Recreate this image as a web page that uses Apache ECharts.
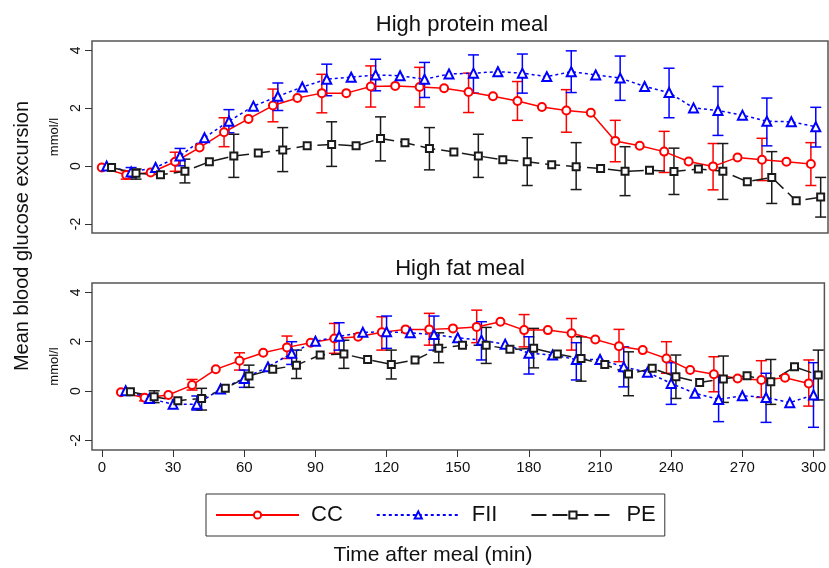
<!DOCTYPE html>
<html>
<head>
<meta charset="utf-8">
<script src="https://cdn.jsdelivr.net/npm/echarts@6.0.0/dist/echarts.min.js"></script>
<style>
  html, body { margin: 0; padding: 0; background: #fff; }
  #chart { width: 829px; height: 568px; }
</style>
</head>
<body>
<div id="chart"></div>
<script>
// sampling times (min); each group is drawn slightly shifted so the bars do not overlap
const times = [10, 20, 30, 40, 50, 60, 70, 80, 90, 100, 110, 120, 130, 140, 150,
  160, 170, 180, 190, 200, 210, 220, 230, 240, 250, 260, 270, 280, 290, 300];
const errTimes = [20, 40, 60, 80, 100, 120, 140, 160, 180, 200, 220, 240, 260, 280, 300];
const jitter = { CC: -2, FII: 0, PE: 2 };
const groups = ["CC", "FII", "PE"];
const yTicks = [-2, 0, 2, 4];
const xTicks = [0, 30, 60, 90, 120, 150, 180, 210, 240, 270, 300];

// High protein meal
const proteinCC = [-0.05, -0.31, -0.22, 0.15, 0.64, 1.17, 1.63, 2.09, 2.35, 2.52, 2.52, 2.75, 2.77, 2.73, 2.69,
  2.56, 2.41, 2.25, 2.04, 1.92, 1.84, 0.87, 0.70, 0.50, 0.16, -0.01, 0.30, 0.22, 0.15, 0.07];
const proteinFII = [0.0, -0.2, -0.05, 0.35, 0.98, 1.55, 2.07, 2.41, 2.73, 3.0, 3.07, 3.15, 3.12, 3.0, 3.18,
  3.21, 3.26, 3.21, 3.09, 3.26, 3.15, 3.04, 2.75, 2.54, 2.01, 1.92, 1.76, 1.55, 1.53, 1.36];
const proteinPE = [-0.05, -0.25, -0.30, -0.18, 0.15, 0.35, 0.45, 0.56, 0.70, 0.75, 0.70, 0.95, 0.81, 0.61, 0.49,
  0.35, 0.22, 0.15, 0.05, -0.02, -0.08, -0.18, -0.14, -0.19, -0.10, -0.18, -0.54, -0.39, -1.20, -1.07];
const proteinCCErr = [[-0.45, -0.16], [-0.18, 0.48], [0.67, 1.67], [1.53, 2.66], [1.84, 3.17], [2.04, 3.46],
  [2.04, 3.41], [1.85, 3.21], [1.58, 2.92], [1.17, 2.64], [0.15, 1.58], [-0.22, 1.2], [-0.82, 0.78],
  [-0.5, 0.96], [-0.67, 0.81]];
const proteinFIIErr = [[-0.4, -0.05], [0.01, 0.61], [1.15, 1.95], [1.92, 2.87], [2.43, 3.52], [2.6, 3.69],
  [2.37, 3.58], [2.52, 3.84], [2.52, 3.87], [2.54, 3.98], [2.27, 3.80], [1.67, 3.38], [1.06, 2.75],
  [0.70, 2.35], [0.66, 2.03]];
const proteinPEErr = [[-0.45, -0.1], [-0.58, 0.24], [-0.39, 1.10], [-0.19, 1.33], [-0.01, 1.53], [0.18, 1.70],
  [-0.13, 1.33], [-0.39, 1.10], [-0.67, 0.98], [-0.81, 0.81], [-1.02, 0.67], [-0.98, 0.62], [-1.15, 0.78],
  [-1.29, 0.50], [-1.76, -0.39]];

// High fat meal
const fatCC = [-0.05, -0.27, -0.16, 0.24, 0.88, 1.23, 1.55, 1.77, 1.96, 2.13, 2.2, 2.38, 2.5, 2.5, 2.54,
  2.60, 2.81, 2.47, 2.47, 2.34, 2.09, 1.82, 1.66, 1.32, 0.85, 0.68, 0.51, 0.45, 0.54, 0.31];
const fatFII = [0.01, -0.30, -0.54, -0.54, 0.08, 0.51, 0.98, 1.53, 2.02, 2.22, 2.38, 2.40, 2.36, 2.29, 2.16,
  2.06, 1.90, 1.53, 1.46, 1.28, 1.28, 0.98, 0.76, 0.31, -0.09, -0.34, -0.19, -0.26, -0.47, -0.16];
const fatPE = [-0.03, -0.23, -0.39, -0.30, 0.11, 0.61, 0.88, 1.05, 1.46, 1.5, 1.28, 1.08, 1.26, 1.73, 1.86,
  1.86, 1.69, 1.73, 1.50, 1.32, 1.08, 0.69, 0.92, 0.58, 0.35, 0.49, 0.62, 0.38, 0.98, 0.65];
const fatCCErr = [[-0.4, -0.15], [0.04, 0.47], [0.85, 1.55], [1.32, 2.23], [1.53, 2.74], [1.66, 3.01],
  [1.86, 3.15], [1.96, 3.28], [1.79, 3.1], [1.66, 2.94], [1.19, 2.50], [0.72, 2.0], [-0.03, 1.39],
  [-0.26, 1.23], [-0.61, 1.26]];
const fatFIIErr = [[-0.45, -0.15], [-0.77, -0.2], [0.15, 0.85], [1.08, 2.0], [1.66, 2.77], [1.73, 3.04],
  [1.66, 3.04], [1.26, 2.81], [0.69, 2.2], [0.45, 1.96], [0.17, 1.79], [-0.54, 1.15], [-1.24, 0.58],
  [-1.27, 0.72], [-1.47, 1.15]];
const fatPEErr = [[-0.47, 0.01], [-0.77, 0.11], [0.15, 1.05], [0.51, 1.66], [0.92, 2.06], [0.49, 1.66],
  [1.15, 2.36], [1.12, 2.58], [0.94, 2.54], [0.40, 2.2], [-0.19, 1.59], [-0.30, 1.46], [-0.46, 1.42],
  [-0.54, 1.28], [-0.36, 1.66]];

const FONT = "'Liberation Sans', Arial, sans-serif";
const styles = {
  CC: { color: "#ff0000", symbol: "emptyCircle", symbolSize: 8, type: "solid" },
  FII: { color: "#0000ff", symbol: "emptyTriangle", symbolSize: 9, type: [3, 3] },
  PE: { color: "#1a1a1a", symbol: "emptyRect", symbolSize: 7, type: [15, 6] },
};

const panels = [
  { values: { CC: proteinCC, FII: proteinFII, PE: proteinPE }, errs: { CC: proteinCCErr, FII: proteinFIIErr, PE: proteinPEErr } },
  { values: { CC: fatCC, FII: fatFII, PE: fatPE }, errs: { CC: fatCCErr, FII: fatFIIErr, PE: fatPEErr } },
];

function errorBar(color) {
  return function (params, api) {
    const x = api.value(0);
    const lo = api.coord([x, api.value(1)]);
    const hi = api.coord([x, api.value(2)]);
    const w = 5.5;
    const st = { stroke: color, lineWidth: 1.5 };
    return {
      type: "group",
      children: [
        { type: "line", shape: { x1: lo[0], y1: lo[1], x2: hi[0], y2: hi[1] }, style: st },
        { type: "line", shape: { x1: lo[0] - w, y1: lo[1], x2: lo[0] + w, y2: lo[1] }, style: st },
        { type: "line", shape: { x1: hi[0] - w, y1: hi[1], x2: hi[0] + w, y2: hi[1] }, style: st },
      ],
    };
  };
}

const series = [];
panels.forEach((p, i) => {
  groups.forEach((g) => {
    const s = styles[g];
    series.push({
      name: g,
      type: "line",
      xAxisIndex: i,
      yAxisIndex: i,
      symbol: s.symbol,
      symbolSize: s.symbolSize,
      showAllSymbol: true,
      itemStyle: { color: s.color, borderWidth: 1.5 },
      lineStyle: { color: s.color, width: 1.5, type: s.type },
      data: times.map((t, k) => [t + jitter[g], p.values[g][k]]),
      z: 3,
    });
    series.push({
      name: g + " 95% CI",
      type: "custom",
      xAxisIndex: i,
      yAxisIndex: i,
      renderItem: errorBar(s.color),
      data: errTimes.map((t, k) => [t + jitter[g], p.errs[g][k][0], p.errs[g][k][1]]),
      z: 2,
      silent: true,
    });
  });
});

function yAxis(idx, min, max) {
  return {
    gridIndex: idx,
    type: "value",
    min: min,
    max: max,
    axisLine: { show: false, onZero: false },
    splitLine: { show: false },
    axisTick: { show: true, length: 7, customValues: yTicks, lineStyle: { color: "#333", width: 1 } },
    axisLabel: { customValues: yTicks, rotate: 90, margin: 9, fontSize: 14, color: "#111", fontFamily: FONT },
    name: "mmol/l",
    nameLocation: "middle",
    nameRotate: 90,
    nameGap: 27,
    nameTextStyle: { fontSize: 13, color: "#111", fontFamily: FONT },
  };
}

const chart = echarts.init(document.getElementById("chart"));
chart.setOption({
  animation: false,
  backgroundColor: "#fff",
  grid: [
    { left: 92, right: 1, top: 41, height: 192, show: true, borderColor: "#555", borderWidth: 1.5, backgroundColor: "#fff" },
    { left: 92, right: 1, top: 283, height: 167, show: true, borderColor: "#555", borderWidth: 1.5, backgroundColor: "#fff" },
  ],
  xAxis: [
    { gridIndex: 0, type: "value", min: 4, max: 305, axisLine: { show: false, onZero: false }, axisTick: { show: false },
      axisLabel: { show: false }, splitLine: { show: false } },
    { gridIndex: 1, type: "value", min: -4.2, max: 304.6, axisLine: { show: false, onZero: false }, splitLine: { show: false },
      axisTick: { show: true, length: 7, customValues: xTicks, lineStyle: { color: "#333" } },
      axisLabel: { customValues: xTicks, margin: 10, fontSize: 15, color: "#111", fontFamily: FONT } },
  ],
  yAxis: [yAxis(0, -2.31, 4.32), yAxis(1, -2.39, 4.38)],
  legend: {
    data: groups,
    left: 206,
    top: 494,
    orient: "horizontal",
    padding: [10, 9, 10, 9],
    itemWidth: 83,
    itemHeight: 9,
    itemGap: 33,
    borderColor: "#333",
    borderWidth: 1,
    textStyle: { fontSize: 22, color: "#111", fontFamily: FONT, padding: [0, 0, 0, 7] },
    selectedMode: false,
  },
  graphic: [
    { type: "text", x: 462, y: 25, style: { text: "High protein meal", font: "22px " + FONT, fill: "#111", align: "center", verticalAlign: "middle", textAlign: "center", textVerticalAlign: "middle" } },
    { type: "text", x: 460, y: 269, style: { text: "High fat meal", font: "22px " + FONT, fill: "#111", align: "center", verticalAlign: "middle", textAlign: "center", textVerticalAlign: "middle" } },
    { type: "text", x: 433, y: 555, style: { text: "Time after meal (min)", font: "21px " + FONT, fill: "#111", align: "center", verticalAlign: "middle", textAlign: "center", textVerticalAlign: "middle" } },
    { type: "text", x: 22, y: 236, rotation: Math.PI / 2, style: { text: "Mean blood glucose excursion", font: "20px " + FONT, fill: "#111", align: "center", verticalAlign: "middle", textAlign: "center", textVerticalAlign: "middle" } },
  ],
  series: series,
});
</script>
</body>
</html>
